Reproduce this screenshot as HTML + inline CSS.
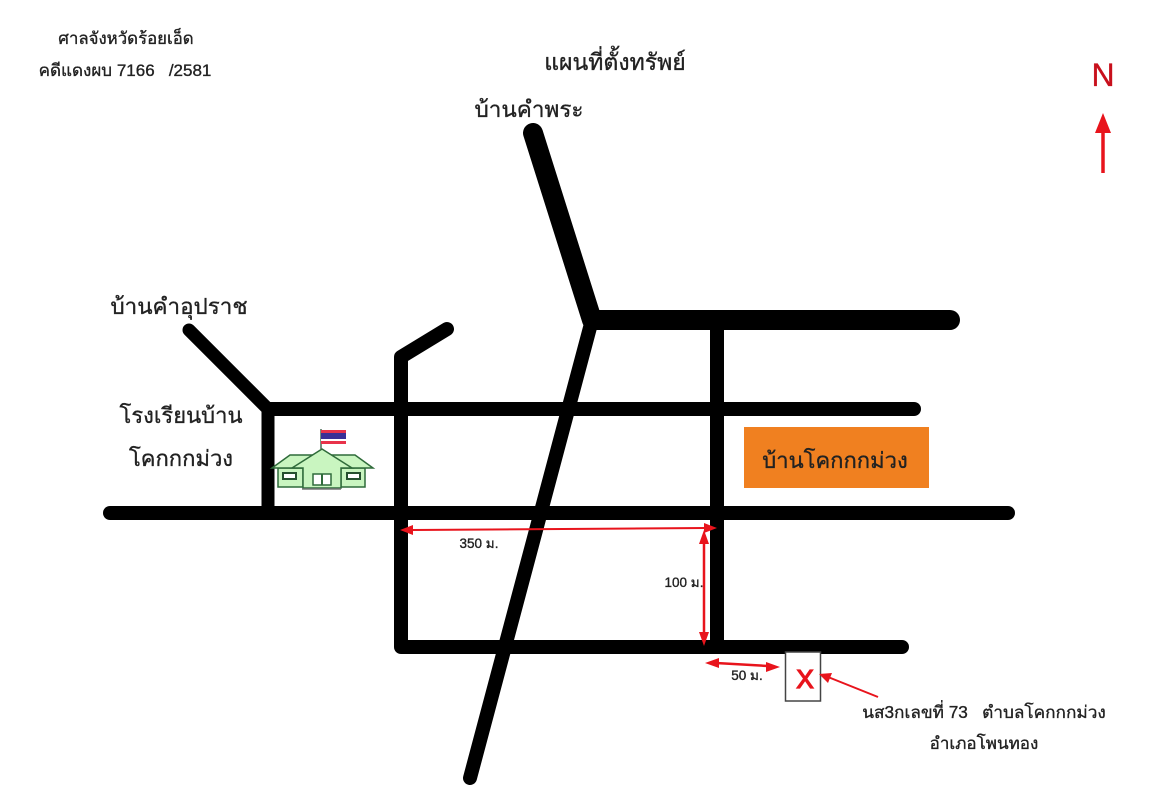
<!DOCTYPE html>
<html lang="th"><head><meta charset="utf-8"><style>
html,body{margin:0;padding:0;background:#fff}
svg{display:block;filter:blur(.35px)}
text{font-family:"Liberation Sans","DejaVu Sans","Noto Sans CJK SC",sans-serif;fill:#222;stroke:#222;stroke-width:.35px}
</style></head><body>
<svg width="1150" height="800" viewBox="0 0 1150 800" xmlns="http://www.w3.org/2000/svg">
<rect width="1150" height="800" fill="#fff"/>
<g fill="none" stroke="#000" stroke-linecap="round" stroke-linejoin="round">
<path d="M533 133L592 320L950 320" stroke-width="20"/>
<path d="M592 320L470 778" stroke-width="14"/>
<path d="M110 513H1008" stroke-width="14"/>
<path d="M268 409H914" stroke-width="14"/>
<path d="M189 330L268 409V513" stroke-width="13"/>
<path d="M717 320V647" stroke-width="14"/>
<path d="M447 329L401 357V647H902" stroke-width="14"/>
</g>
<rect x="744" y="427" width="185" height="61" fill="#f08020"/>
<!-- school -->
<g stroke="#2f6b3a" stroke-width="1.5" fill="#c9f5c0">
<path d="M278 468H303V487H278Z"/>
<path d="M341 468H365V487H341Z"/>
<path d="M272 468L290 455H355L373 468Z"/>
<path d="M292 468L322 449L352 468H341V488H303V468Z"/>
<rect x="283" y="473" width="13" height="6" fill="#fff" stroke="#25502e" stroke-width="2"/>
<rect x="347" y="473" width="13" height="6" fill="#fff" stroke="#25502e" stroke-width="2"/>
<rect x="313" y="474" width="18" height="11" fill="#fff"/>
<path d="M322 474V485" stroke-width="2"/>
</g>
<path d="M302 489H341" stroke="#777" stroke-width="1.500"/>
<path d="M321 429V449" stroke="#4a6a55" stroke-width="1.500"/>
<rect x="321" y="430" width="25" height="3" fill="#e8324a"/>
<rect x="321" y="433" width="25" height="6" fill="#3a2f96"/>
<rect x="321" y="439" width="25" height="2" fill="#fff"/>
<rect x="321" y="441" width="25" height="3" fill="#e8324a"/>
<!-- X box -->
<rect x="785.500" y="652" width="35" height="49" fill="#fff" stroke="#444" stroke-width="1.500"/>
<text x="805" y="688" font-size="26" text-anchor="middle" style="fill:#e8141c;stroke:#e8141c;stroke-width:1.300px">X</text>
<!-- red dims -->
<g stroke="#e8141c" stroke-width="2" fill="#e8141c">
<path d="M412 530L706 528"/>
<path d="M400 530L413 525V535Z" stroke="none"/>
<path d="M717 528L704 523V533Z" stroke="none"/>
<path d="M704 540V638" stroke-width="2.500"/>
<path d="M704 530L699 544H709Z" stroke="none"/>
<path d="M704 646L699 632H709Z" stroke="none"/>
<path d="M716 663L768 666" stroke-width="2.500"/>
<path d="M705 663L719 658V668Z" stroke="none"/>
<path d="M780 667L766 662V672Z" stroke="none"/>
<path d="M828 677L878 697"/>
<path d="M819 674L832 673L828 683Z" stroke="none"/>
<path d="M1103 128V173" stroke-width="3.500"/>
<path d="M1103 113L1095 133H1111Z" stroke="none"/>
</g>
<text x="1103" y="86" font-size="32" text-anchor="middle" style="fill:#c8101c;stroke:#c8101c">N</text>
<text x="126" y="44" font-size="16.800" text-anchor="middle">ศาลจังหวัดร้อยเอ็ด</text>
<text x="125" y="76" font-size="17" text-anchor="middle" xml:space="preserve">คดีแดงผบ 7166   /2581</text>
<text x="615" y="70" font-size="23" text-anchor="middle">แผนที่ตั้งทรัพย์</text>
<text x="529" y="117" font-size="22.500" text-anchor="middle">บ้านคำพระ</text>
<text x="179" y="314" font-size="22.400" text-anchor="middle">บ้านคำอุปราช</text>
<text x="181" y="423" font-size="22" text-anchor="middle">โรงเรียนบ้าน</text>
<text x="181" y="466" font-size="22" text-anchor="middle">โคกกกม่วง</text>
<text x="835" y="468" font-size="22" text-anchor="middle">บ้านโคกกกม่วง</text>
<text x="479" y="548" font-size="13.500" text-anchor="middle">350 ม.</text>
<text x="684" y="587" font-size="13.500" text-anchor="middle">100 ม.</text>
<text x="747" y="680" font-size="13.500" text-anchor="middle">50 ม.</text>
<text x="984" y="718" font-size="17.200" text-anchor="middle" xml:space="preserve">นส3กเลขที่ 73   ตำบลโคกกกม่วง</text>
<text x="984" y="749" font-size="17" text-anchor="middle">อำเภอโพนทอง</text>
</svg>
</body></html>
